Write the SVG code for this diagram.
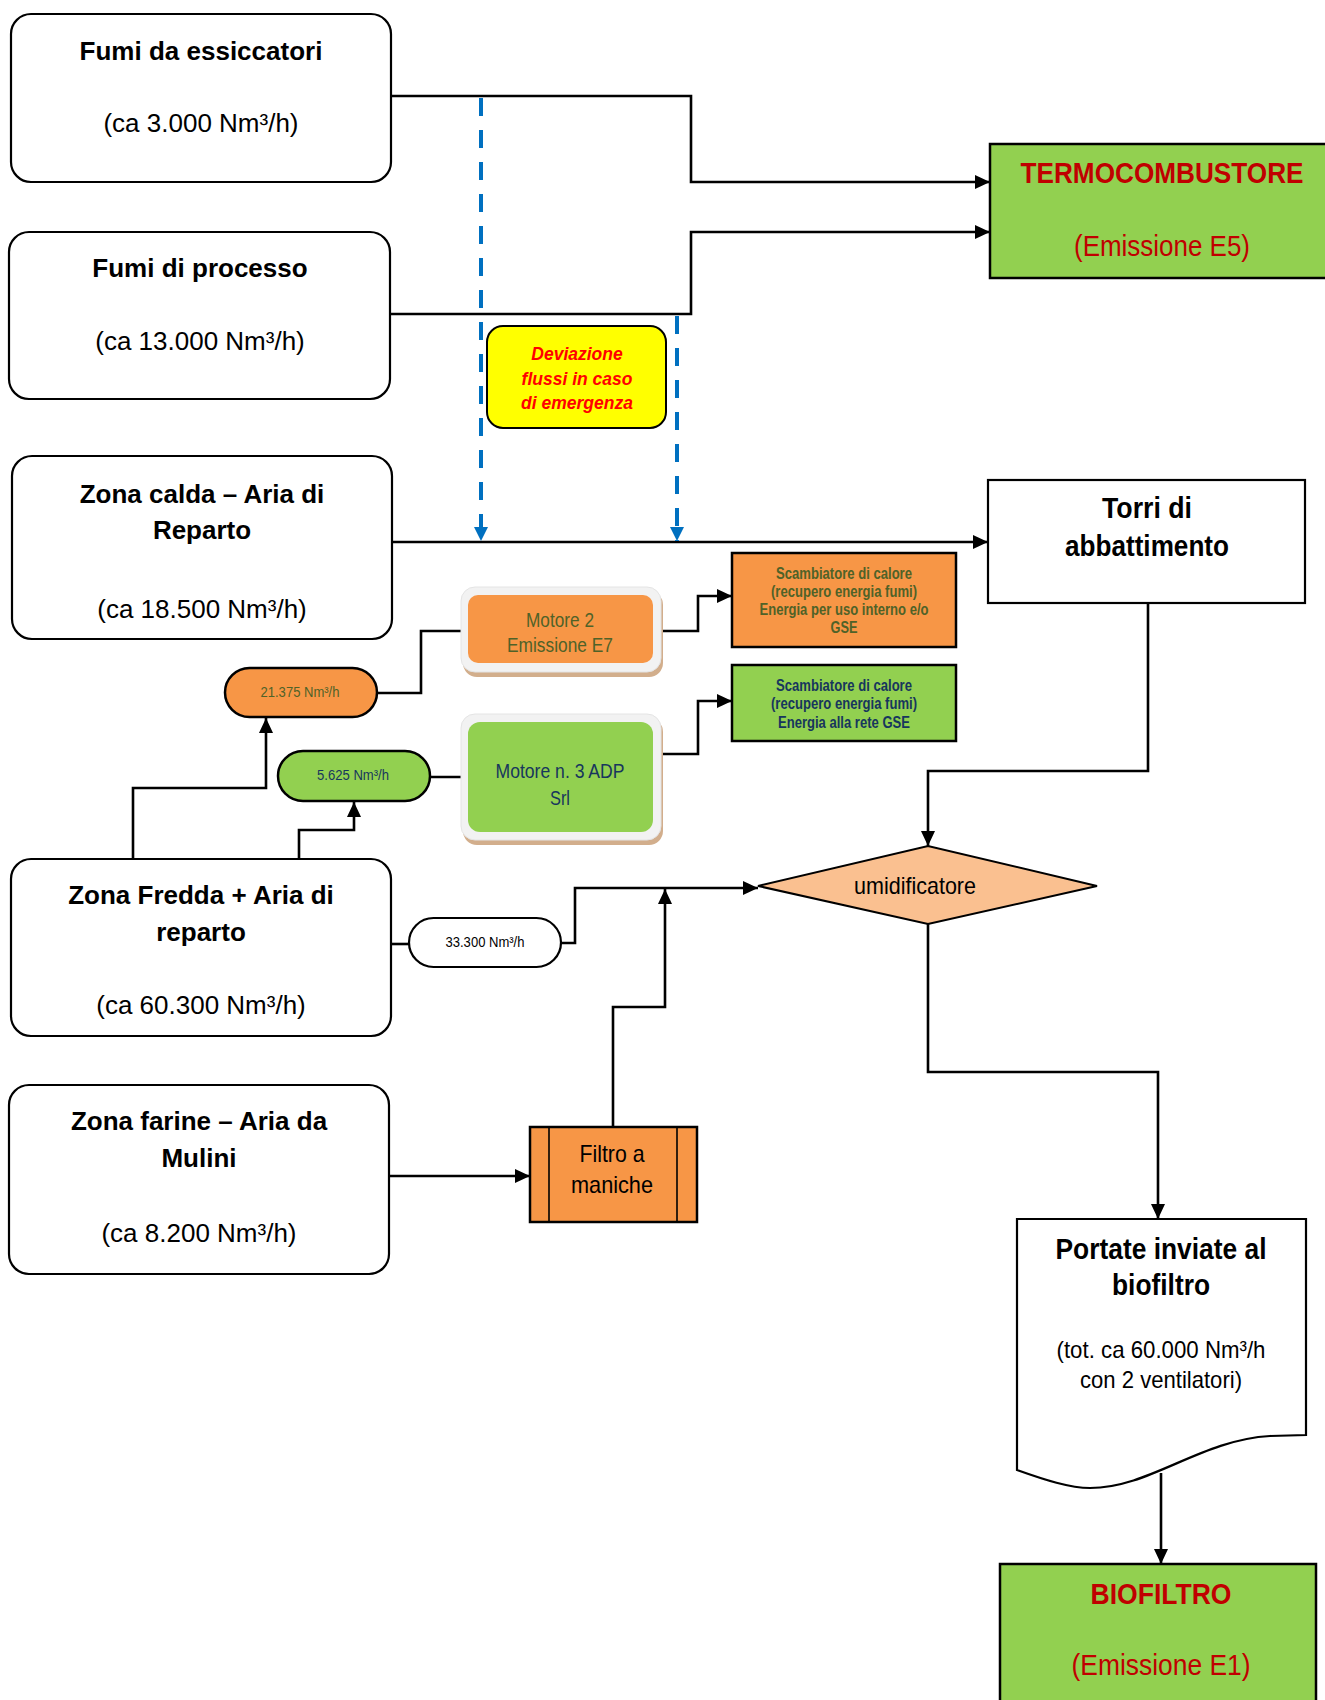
<svg xmlns="http://www.w3.org/2000/svg" width="1325" height="1700" viewBox="0 0 1325 1700">
<defs>
<style>
.box{fill:#fff;stroke:#000;stroke-width:2.2}
.green{fill:#92D050;stroke:#000;stroke-width:2.5}
.orange{fill:#F79646;stroke:#000;stroke-width:2.5}
.hb{font-family:"Liberation Sans",Arial,sans-serif;font-weight:bold;font-size:26px;text-anchor:middle;fill:#000}
.hr{font-family:"Liberation Sans",Arial,sans-serif;font-size:26px;text-anchor:middle;fill:#000}
.rb{font-family:"Liberation Sans",Arial,sans-serif;font-weight:bold;font-size:29px;text-anchor:middle;fill:#C00000}
.rr{font-family:"Liberation Sans",Arial,sans-serif;font-size:29px;text-anchor:middle;fill:#C00000}
.kb{font-family:"Liberation Sans",Arial,sans-serif;font-weight:bold;font-size:29px;text-anchor:middle;fill:#000}
.kr{font-family:"Liberation Sans",Arial,sans-serif;font-size:24px;text-anchor:middle;fill:#000}
.dev{font-family:"Liberation Sans",Arial,sans-serif;font-weight:bold;font-style:italic;font-size:17.5px;text-anchor:middle;fill:#FF0000}
.olive{fill:#4F6228}
.navy{fill:#17365D}
.sm{font-family:"Liberation Sans",Arial,sans-serif;font-size:15px;text-anchor:middle}
.mot{font-family:"Liberation Sans",Arial,sans-serif;font-size:21px;text-anchor:middle}
.sc{font-family:"Liberation Sans",Arial,sans-serif;font-weight:bold;font-size:16.5px;text-anchor:middle}
.conn{fill:none;stroke:#000;stroke-width:2.6}
.dash{fill:none;stroke:#0070C0;stroke-width:4;stroke-dasharray:18 14}
.frame{fill:#F2F2F2;stroke:#E4E4E4;stroke-width:1}
.shadow{fill:#D2AE8C}
</style>
<marker id="ah" markerUnits="userSpaceOnUse" markerWidth="16" markerHeight="14" refX="15" refY="7" orient="auto">
<path d="M0,0 L15,7 L0,14 z" fill="#000"/>
</marker>
<marker id="bh" markerUnits="userSpaceOnUse" markerWidth="15" markerHeight="14" refX="14" refY="7" orient="auto">
<path d="M0,0 L14,7 L0,14 z" fill="#0070C0"/>
</marker>
</defs>
<rect width="1325" height="1700" fill="#fff"/>

<g id="connectors">
<path class="conn" d="M391,96 H691 V182 H990" marker-end="url(#ah)"/>
<path class="conn" d="M390,314 H691 V232 H990" marker-end="url(#ah)"/>
<path class="conn" d="M392,542 H988" marker-end="url(#ah)"/>
<path class="dash" d="M481,98 V541" marker-end="url(#bh)"/>
<path class="dash" d="M677,316 V541" marker-end="url(#bh)"/>
<path class="conn" d="M1148,603 V771 H928 V846" marker-end="url(#ah)"/>
<path class="conn" d="M133,859 V788 H266 V718" marker-end="url(#ah)"/>
<path class="conn" d="M299,859 V830 H354 V802" marker-end="url(#ah)"/>
<path class="conn" d="M377,693 H421 V631 H463"/>
<path class="conn" d="M430,777 H463"/>
<path class="conn" d="M661,631 H698 V596 H732" marker-end="url(#ah)"/>
<path class="conn" d="M661,754 H698 V701 H732" marker-end="url(#ah)"/>
<path class="conn" d="M391,944 H409"/>
<path class="conn" d="M561,943 H575 V888 H758" marker-end="url(#ah)"/>
<path class="conn" d="M613,1127 V1007 H665 V889" marker-end="url(#ah)"/>
<path class="conn" d="M389,1176 H530" marker-end="url(#ah)"/>
<path class="conn" d="M928,924 V1072 H1158 V1219" marker-end="url(#ah)"/>
<path class="conn" d="M1161,1473 V1564" marker-end="url(#ah)"/>
</g>

<g id="fumi-essiccatori">
<rect class="box" x="11" y="14" width="380" height="168" rx="20"/>
<text class="hb" x="201" y="60">Fumi da essiccatori</text>
<text class="hr" x="201" y="132">(ca 3.000 Nm³/h)</text>
</g>

<g id="fumi-processo">
<rect class="box" x="9" y="232" width="381" height="167" rx="20"/>
<text class="hb" x="200" y="277">Fumi di processo</text>
<text class="hr" x="200" y="350">(ca 13.000 Nm³/h)</text>
</g>

<g id="deviazione">
<rect x="487" y="326" width="179" height="102" rx="16" fill="#FFFF00" stroke="#000" stroke-width="2"/>
<text class="dev" x="577" y="360">Deviazione</text>
<text class="dev" x="577" y="385">flussi in caso</text>
<text class="dev" x="577" y="409">di emergenza</text>
</g>

<g id="termocombustore">
<rect class="green" x="990" y="144" width="345" height="134"/>
<text class="rb" x="1162" y="183" textLength="283" lengthAdjust="spacingAndGlyphs">TERMOCOMBUSTORE</text>
<text class="rr" x="1162" y="256" textLength="176" lengthAdjust="spacingAndGlyphs">(Emissione E5)</text>
</g>

<g id="zona-calda">
<rect class="box" x="12" y="456" width="380" height="183" rx="20"/>
<text class="hb" x="202" y="503">Zona calda – Aria di</text>
<text class="hb" x="202" y="539">Reparto</text>
<text class="hr" x="202" y="618">(ca 18.500 Nm³/h)</text>
</g>

<g id="torri">
<rect class="box" x="988" y="480" width="317" height="123"/>
<text class="kb" x="1147" y="518" textLength="90" lengthAdjust="spacingAndGlyphs">Torri di</text>
<text class="kb" x="1147" y="556" textLength="164" lengthAdjust="spacingAndGlyphs">abbattimento</text>
</g>

<g id="scambiatore-1">
<rect class="orange" x="732" y="553" width="224" height="94"/>
<text class="sc olive" x="844" y="579" textLength="136" lengthAdjust="spacingAndGlyphs">Scambiatore di calore</text>
<text class="sc olive" x="844" y="597" textLength="146" lengthAdjust="spacingAndGlyphs">(recupero energia fumi)</text>
<text class="sc olive" x="844" y="615" textLength="169" lengthAdjust="spacingAndGlyphs">Energia per uso interno e/o</text>
<text class="sc olive" x="844" y="633" textLength="27" lengthAdjust="spacingAndGlyphs">GSE</text>
</g>

<g id="scambiatore-2">
<rect class="green" x="732" y="665" width="224" height="76"/>
<text class="sc navy" x="844" y="691" textLength="136" lengthAdjust="spacingAndGlyphs">Scambiatore di calore</text>
<text class="sc navy" x="844" y="709" textLength="146" lengthAdjust="spacingAndGlyphs">(recupero energia fumi)</text>
<text class="sc navy" x="844" y="728" textLength="132" lengthAdjust="spacingAndGlyphs">Energia alla rete GSE</text>
</g>

<g id="motore-2">
<rect class="shadow" x="463" y="591" width="200" height="86" rx="14"/>
<rect class="frame" x="461" y="587" width="200" height="85" rx="14"/>
<rect x="468" y="595" width="185" height="68" rx="10" fill="#F79646"/>
<text class="mot olive" x="560" y="627" textLength="68" lengthAdjust="spacingAndGlyphs">Motore 2</text>
<text class="mot olive" x="560" y="652" textLength="106" lengthAdjust="spacingAndGlyphs">Emissione E7</text>
</g>

<g id="motore-3">
<rect class="shadow" x="463" y="718" width="200" height="127" rx="14"/>
<rect class="frame" x="461" y="714" width="200" height="126" rx="14"/>
<rect x="468" y="722" width="185" height="110" rx="12" fill="#92D050"/>
<text class="mot navy" x="560" y="778" textLength="129" lengthAdjust="spacingAndGlyphs">Motore n. 3 ADP</text>
<text class="mot navy" x="560" y="805" textLength="20" lengthAdjust="spacingAndGlyphs">Srl</text>
</g>

<g id="portata-21375">
<rect class="orange" x="225" y="668" width="152" height="49" rx="24.5"/>
<text class="sm olive" x="300" y="697" textLength="79" lengthAdjust="spacingAndGlyphs">21.375 Nm³/h</text>
</g>

<g id="portata-5625">
<rect class="green" x="278" y="751" width="152" height="50" rx="25"/>
<text class="sm navy" x="353" y="780" textLength="72" lengthAdjust="spacingAndGlyphs">5.625 Nm³/h</text>
</g>

<g id="zona-fredda">
<rect class="box" x="11" y="859" width="380" height="177" rx="20"/>
<text class="hb" x="201" y="904">Zona Fredda + Aria di</text>
<text class="hb" x="201" y="941">reparto</text>
<text class="hr" x="201" y="1014">(ca 60.300 Nm³/h)</text>
</g>

<g id="portata-33300">
<rect x="409" y="918" width="152" height="49" rx="24.5" fill="#fff" stroke="#000" stroke-width="2.2"/>
<text class="sm" x="485" y="947" fill="#000" textLength="79" lengthAdjust="spacingAndGlyphs">33.300 Nm³/h</text>
</g>

<g id="umidificatore">
<polygon points="758,886 928,846 1097,886 928,924" fill="#FAC090" stroke="#000" stroke-width="2"/>
<text class="kr" x="915" y="894" font-size="23" textLength="122" lengthAdjust="spacingAndGlyphs">umidificatore</text>
</g>

<g id="zona-farine">
<rect class="box" x="9" y="1085" width="380" height="189" rx="20"/>
<text class="hb" x="199" y="1130">Zona farine – Aria da</text>
<text class="hb" x="199" y="1167">Mulini</text>
<text class="hr" x="199" y="1242">(ca 8.200 Nm³/h)</text>
</g>

<g id="filtro">
<rect class="orange" x="530" y="1127" width="167" height="95"/>
<line x1="549" y1="1127" x2="549" y2="1222" stroke="#000" stroke-width="1.6"/>
<line x1="677" y1="1127" x2="677" y2="1222" stroke="#000" stroke-width="1.6"/>
<text class="kr" x="612" y="1162" textLength="65" lengthAdjust="spacingAndGlyphs">Filtro a</text>
<text class="kr" x="612" y="1193" textLength="82" lengthAdjust="spacingAndGlyphs">maniche</text>
</g>

<g id="portate-biofiltro">
<path d="M1017,1219 H1306 V1435 L1270,1436 C1200,1440 1150,1488 1090,1488 C1070,1488 1045,1480 1017,1470 Z" fill="#fff" stroke="#000" stroke-width="2.2"/>
<text class="kb" x="1161" y="1259" textLength="211" lengthAdjust="spacingAndGlyphs">Portate inviate al</text>
<text class="kb" x="1161" y="1295" textLength="98" lengthAdjust="spacingAndGlyphs">biofiltro</text>
<text class="kr" x="1161" y="1358" textLength="209" lengthAdjust="spacingAndGlyphs">(tot. ca 60.000 Nm³/h</text>
<text class="kr" x="1161" y="1388" textLength="162" lengthAdjust="spacingAndGlyphs">con 2 ventilatori)</text>
</g>

<g id="biofiltro">
<rect class="green" x="1000" y="1564" width="316" height="150"/>
<text class="rb" x="1161" y="1604" textLength="141" lengthAdjust="spacingAndGlyphs">BIOFILTRO</text>
<text class="rr" x="1161" y="1675" textLength="179" lengthAdjust="spacingAndGlyphs">(Emissione E1)</text>
</g>
</svg>
